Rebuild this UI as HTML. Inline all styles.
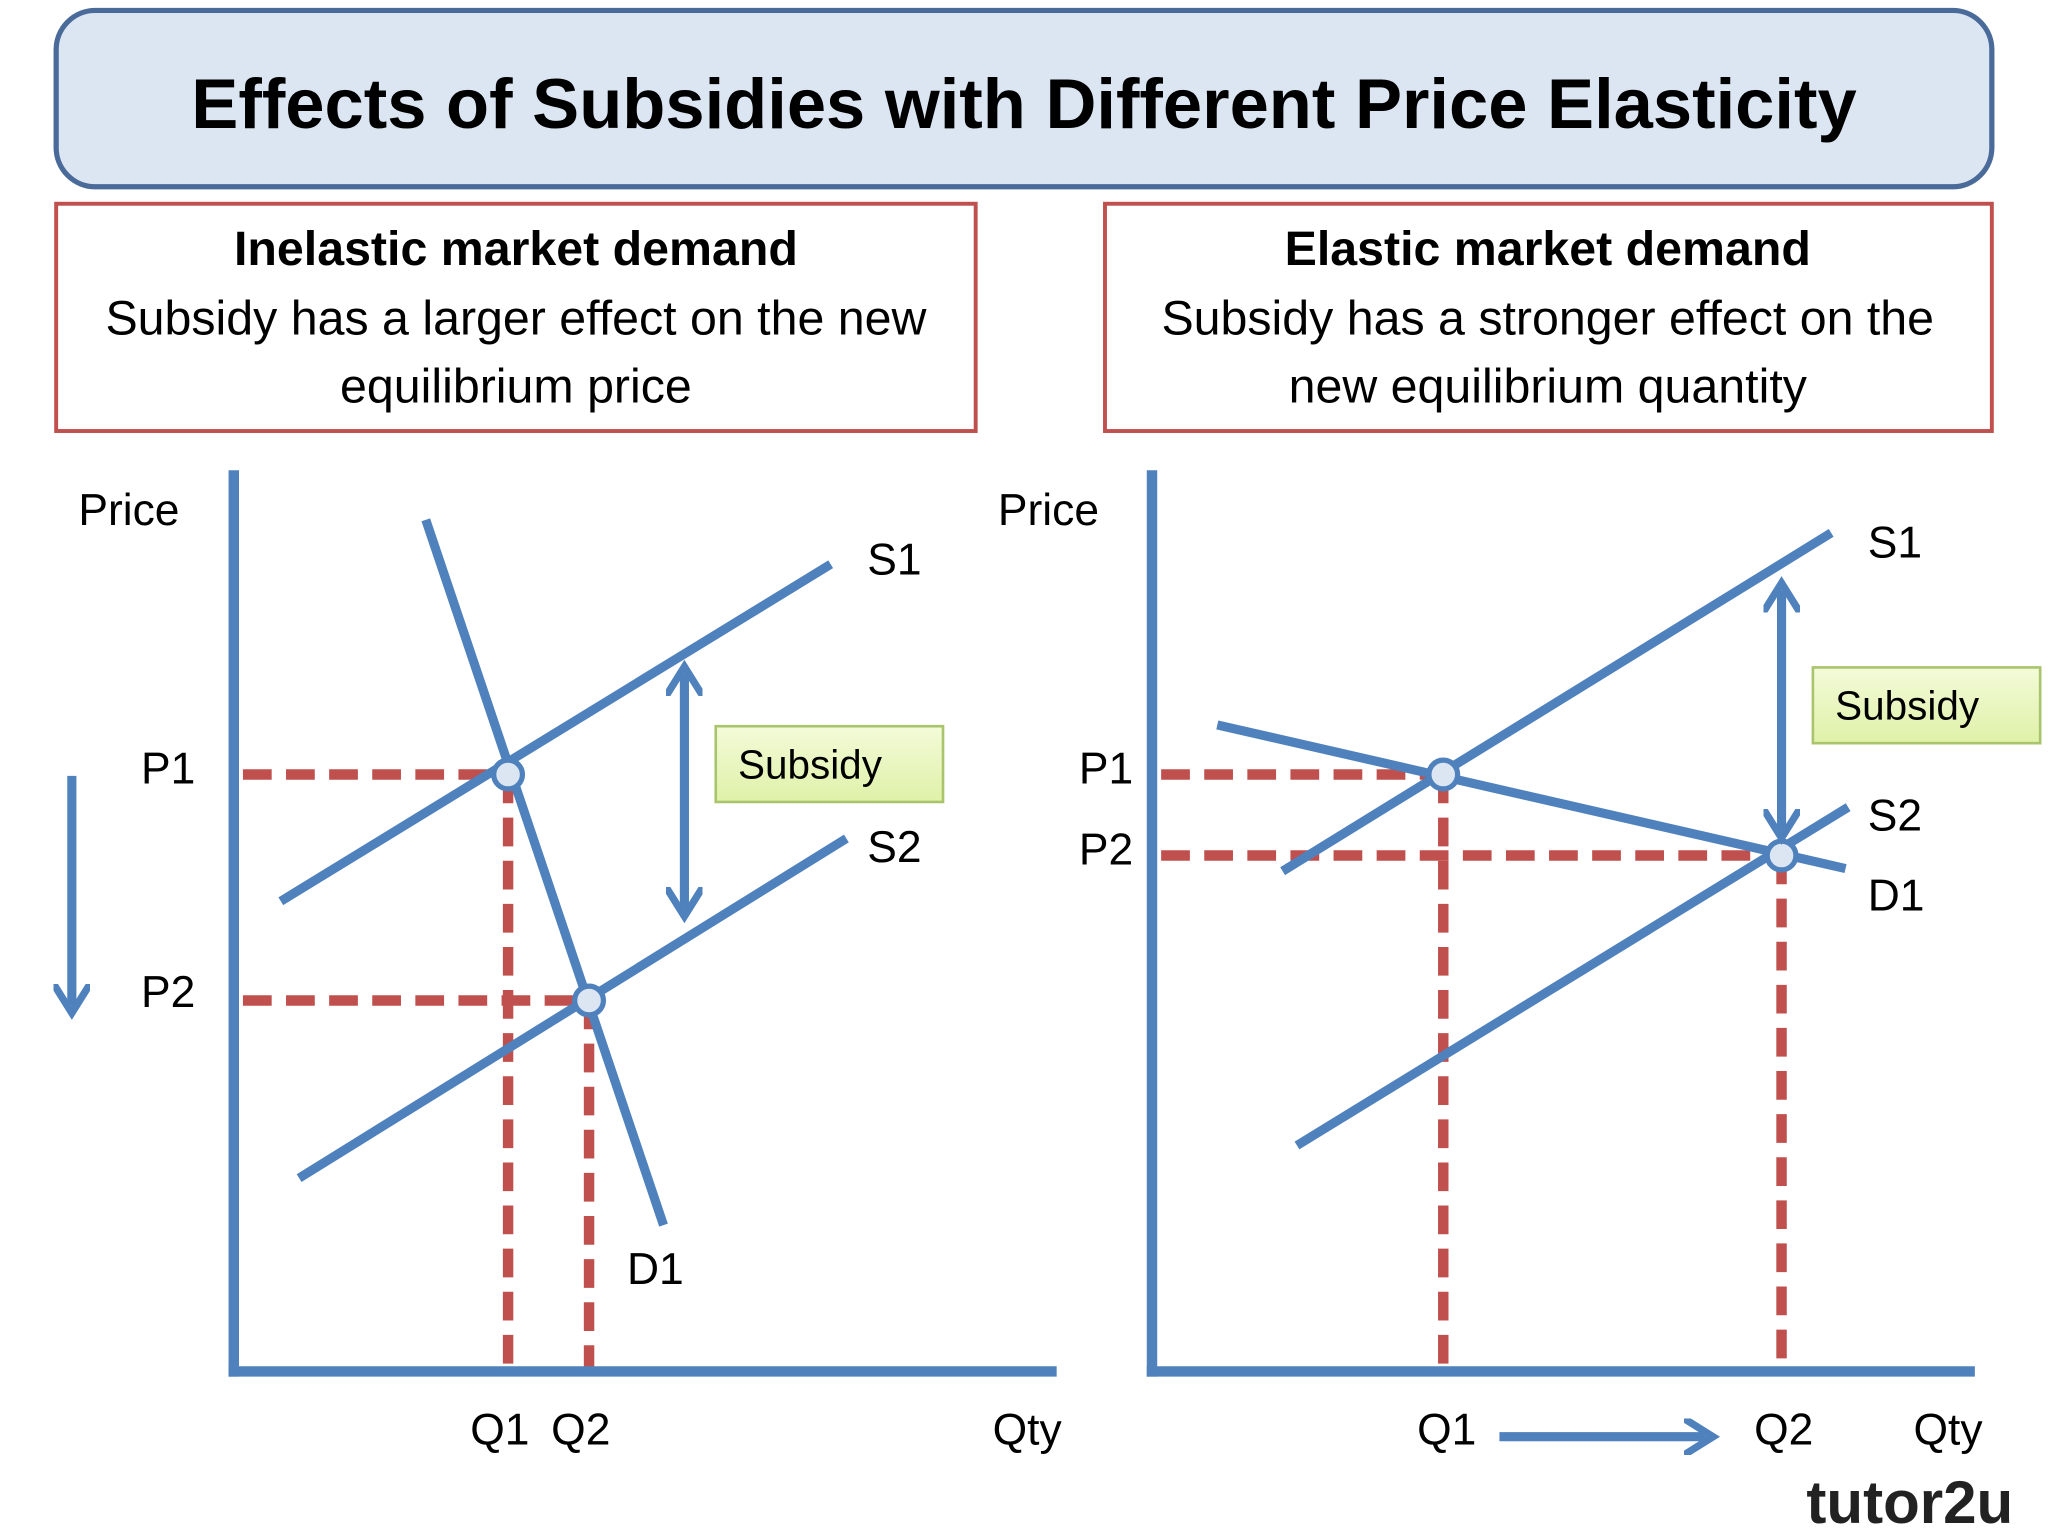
<!DOCTYPE html>
<html><head><meta charset="utf-8"><style>
html,body{margin:0;padding:0;background:#fff;}
svg{display:block;font-family:"Liberation Sans","DejaVu Sans",sans-serif;}
</style></head><body>
<svg id="chart" width="2048" height="1536" viewBox="0 0 1568 1176" xmlns="http://www.w3.org/2000/svg">
<defs>
<linearGradient id="gg" x1="0" y1="0" x2="0" y2="1"><stop offset="0" stop-color="#f3fbd9"/><stop offset="1" stop-color="#dff1a8"/></linearGradient>
<marker id="ah" viewBox="0 0 10 10" refX="6" refY="5" markerWidth="4" markerHeight="4" orient="auto-start-reverse"><path d="M0,0 L8,5 L0,10" fill="none" stroke="#4f81bd" stroke-width="2"/></marker>
</defs>
<rect x="43" y="8" width="1482" height="135" rx="30" fill="#dce6f2" stroke="#4a6b9a" stroke-width="4"/>
<text x="784" y="98" text-anchor="middle" font-size="54" font-weight="bold" fill="#000">Effects of Subsidies with Different Price Elasticity</text>
<g>
<rect x="43" y="156" width="704" height="174" fill="#fff" stroke="#c0504d" stroke-width="3"/>
<text x="395" y="203" text-anchor="middle" font-size="37" font-weight="bold">Inelastic market demand</text>
<text x="395" y="256" text-anchor="middle" font-size="37">Subsidy has a larger effect on the new</text>
<text x="395" y="308" text-anchor="middle" font-size="37">equilibrium price</text>
</g>
<g>
<rect x="846" y="156" width="679" height="174" fill="#fff" stroke="#c0504d" stroke-width="3"/>
<text x="1185" y="203" text-anchor="middle" font-size="37" font-weight="bold">Elastic market demand</text>
<text x="1185" y="256" text-anchor="middle" font-size="37">Subsidy has a stronger effect on the</text>
<text x="1185" y="308" text-anchor="middle" font-size="37">new equilibrium quantity</text>
</g>
<g id="plots"></g>
<text x="1383" y="1166" font-size="46" font-weight="bold" fill="#222">tutor2u</text>
</svg>
<script>
// Left chart (inelastic) — lines as [q1,p1,q2,p2] in chart units (origin at axes corner)
const leftS1 = [36, 360, 457, 618];
const leftS2 = [50, 148, 469, 408];
const leftD1 = [147, 652, 329, 112];
const leftEq = [[210, 457], [272, 284]];
// Right chart (elastic)
const rightS1 = [100, 383, 520, 642];
const rightS2 = [111, 173, 533, 432];
const rightD1 = [50, 495, 531, 385];
const rightEq = [[223, 457], [482, 395]];

const NS = "http://www.w3.org/2000/svg";
const root = document.getElementById('plots');
function el(tag, attrs, parent, txt){const e=document.createElementNS(NS,tag);for(const k in attrs)e.setAttribute(k,attrs[k]);if(txt!==undefined)e.textContent=txt;(parent||root).appendChild(e);return e;}
const BLUE="#4f81bd", RED="#c0504d";

function drawChart(ox, oy, S1, S2, D1, eq, side){
  const x = q => ox + q, y = p => oy - p;
  const g = el('g', {});
  
  
  // dashed guides
  eq.forEach((e, i) => {
    const h = el('line', {x1: ox+7, y1: y(e[1]), x2: x(e[0]), y2: y(e[1]), stroke: RED, 'stroke-width': 8, 'stroke-dasharray': '22 11'}, g);
    
    
    const v = el('line', {x1: x(e[0]), y1: y(e[1]), x2: x(e[0]), y2: oy-3, stroke: RED, 'stroke-width': 8, 'stroke-dasharray': '22 11'}, g);
    
    
  });
  // axes
  const ya = el('line', {x1: ox, y1: oy+4, x2: ox, y2: oy-690, stroke: BLUE, 'stroke-width': 8}, g);
  
  
  const xa = el('line', {x1: ox-4, y1: oy, x2: ox+630, y2: oy, stroke: BLUE, 'stroke-width': 8}, g);
  
  
  [['s1', S1], ['s2', S2], ['d1', D1]].forEach(([n, L]) => {
    const l = el('line', {x1: x(L[0]), y1: y(L[1]), x2: x(L[2]), y2: y(L[3]), stroke: BLUE, 'stroke-width': 7}, g);
    
    
  });
  eq.forEach((e, i) => {
    const c = el('circle', {cx: x(e[0]), cy: y(e[1]), r: 11, fill: '#dce6f2', stroke: BLUE, 'stroke-width': 4}, g);
    
    
  });
  return g;
}
const L = drawChart(179, 1050, leftS1, leftS2, leftD1, leftEq, 'left');
const R = drawChart(882, 1050, rightS1, rightS2, rightD1, rightEq, 'right');

function lab(g, x, y, t, name){const e=el('text',{x:x,y:y,'font-size':34,fill:'#000'},g,t);

}
function arrow(g, x1,y1,x2,y2,dbl,name){const a=el('line',{x1:x1,y1:y1,x2:x2,y2:y2,stroke:BLUE,'stroke-width':7,'marker-end':'url(#ah)'},g);if(dbl)a.setAttribute('marker-start','url(#ah)');

}
function subsidy(g,x,y,name){const b=el('g',{},g);


el('rect',{x:x,y:y,width:174,height:58,fill:'url(#gg)',stroke:'#a9c46c','stroke-width':2},b);
el('text',{x:x+17,y:y+40,'font-size':31},b,'Subsidy');}

lab(L,60,402,'Price','left-y-axis-title');lab(L,108,600,'P1','left-p1-label');lab(L,108,771,'P2','left-p2-label');
lab(L,664,440,'S1','left-s1-label');lab(L,664,660,'S2','left-s2-label');lab(L,480,983,'D1','left-d1-label');
lab(L,360,1106,'Q1','left-q1-label');lab(L,422,1106,'Q2','left-q2-label');lab(L,760,1106,'Qty','left-x-axis-title');
arrow(L,524,516,524,696,true,'left-subsidy-arrow');arrow(L,55,594,55,770,false,'price-fall-arrow');
subsidy(L,548,556,'left-subsidy-box');

lab(R,764,402,'Price','right-y-axis-title');lab(R,826,600,'P1','right-p1-label');lab(R,826,662,'P2','right-p2-label');
lab(R,1430,427,'S1','right-s1-label');lab(R,1430,636,'S2','right-s2-label');lab(R,1430,697,'D1','right-d1-label');
lab(R,1085,1106,'Q1','right-q1-label');lab(R,1343,1106,'Q2','right-q2-label');lab(R,1465,1106,'Qty','right-x-axis-title');
arrow(R,1364,452,1364,636,true,'right-subsidy-arrow');arrow(R,1148,1100,1306,1100,false,'qty-increase-arrow');
subsidy(R,1388,511,'right-subsidy-box');
</script>
</body></html>
